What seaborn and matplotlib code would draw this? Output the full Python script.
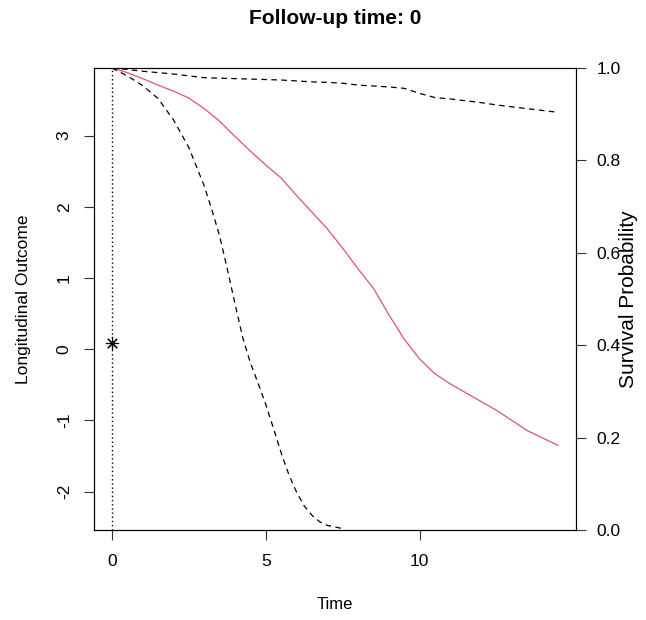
import matplotlib
matplotlib.use("Agg")
import matplotlib.pyplot as plt
import seaborn as sns

# survival curves
time = [0, 0.5, 1, 1.5, 2, 2.5, 3, 3.5, 4, 4.5, 5, 5.5, 6, 6.5, 7, 7.5,
        8, 8.5, 9, 9.5, 10, 10.5, 11, 11.5, 12, 12.5, 13, 13.5, 14, 14.5]
surv_mean = [1.0, 0.990, 0.977, 0.963, 0.950, 0.935, 0.912, 0.885, 0.852, 0.820,
             0.790, 0.762, 0.724, 0.688, 0.652, 0.610, 0.565, 0.523, 0.466, 0.413,
             0.370, 0.338, 0.316, 0.297, 0.278, 0.259, 0.237, 0.215, 0.199, 0.183]
surv_upper = [1.0, 0.997, 0.993, 0.990, 0.987, 0.983, 0.979, 0.978, 0.977, 0.976,
              0.975, 0.974, 0.972, 0.970, 0.969, 0.967, 0.963, 0.961, 0.959, 0.956,
              0.945, 0.936, 0.933, 0.929, 0.925, 0.920, 0.916, 0.912, 0.908, 0.904]
# lower band drops fast and hits zero around t = 7.5
lower_time = [0, 0.5, 1, 1.5, 2, 2.5, 3, 3.25, 3.5, 3.75, 4, 4.25, 4.5, 4.75,
              5, 5.25, 5.5, 5.75, 6, 6.25, 6.5, 6.75, 7, 7.5]
surv_lower = [1.0, 0.983, 0.962, 0.934, 0.888, 0.828, 0.745, 0.693, 0.637, 0.565,
              0.490, 0.417, 0.362, 0.318, 0.272, 0.220, 0.167, 0.120, 0.082, 0.052,
              0.032, 0.018, 0.010, 0.003]

# observed longitudinal measurement
obs_time = [0]
obs_value = [0.08]
followup_time = 0

y_ticks = [-2, -1, 0, 1, 2, 3]
x_ticks = [0, 5, 10]
surv_ticks = [0.0, 0.2, 0.4, 0.6, 0.8, 1.0]

sns.set_style("ticks")
plt.rcParams["font.family"] = ["Liberation Sans", "DejaVu Sans"]
plt.rcParams["axes.unicode_minus"] = False
plt.rcParams["text.color"] = "black"
plt.rcParams["axes.labelcolor"] = "black"
plt.rcParams["xtick.color"] = "black"
plt.rcParams["ytick.color"] = "black"

red = "#DF536B"
dash = (0, (4.5, 3.5))

fig = plt.figure(figsize=(6.46, 6.2), dpi=100)
ax = fig.add_axes([94 / 646, 1 - 530 / 620, 482 / 646, 462 / 620])
ax2 = ax.twinx()

# longitudinal part
ax.axvline(followup_time, color="black", lw=1.0, linestyle=(0, (1, 2)))
ax.plot(obs_time, obs_value, linestyle="none", marker=(8, 2, 0),
        markersize=9.5, markeredgewidth=0.8, color="black")
ax.set_xlim(-0.58, 15.08)
ax.set_ylim(-2.54, 3.95)
ax.set_xticks(x_ticks)
ax.set_yticks(y_ticks)
ax.set_yticklabels([str(v) for v in y_ticks], rotation=90, va="center")

# survival part
sns.lineplot(x=time, y=surv_mean, ax=ax2, color=red, lw=0.9)
sns.lineplot(x=time, y=surv_upper, ax=ax2, color="black", lw=0.9, linestyle=dash)
sns.lineplot(x=lower_time, y=surv_lower, ax=ax2, color="black", lw=0.9,
             linestyle=dash)
ax2.set_ylim(0, 1)
ax2.set_yticks(surv_ticks)
ax2.set_yticklabels([f"{v:.1f}" for v in surv_ticks])

for a in (ax, ax2):
    for s in a.spines.values():
        s.set_visible(True)
        s.set_color("black")
        s.set_linewidth(0.8)
ax.tick_params(axis="both", length=7, width=0.8, color="#333333",
               labelsize=12.5, labelcolor="black")
ax.tick_params(axis="x", pad=10)
ax.tick_params(axis="y", pad=9)
ax2.tick_params(axis="y", length=7, width=0.8, color="#333333",
                labelsize=12.5, pad=8, labelcolor="black")

ax.set_xlabel("Time", fontsize=12, va="center")
ax.xaxis.set_label_coords(0.5, -0.162)
ax.set_ylabel("Longitudinal Outcome", fontsize=12.5, va="center")
ax.yaxis.set_label_coords(-0.147, 0.5)
ax2.set_ylabel("Survival Probability", fontsize=15, va="center", rotation=90)
ax2.yaxis.set_label_coords(1.108, 0.5)

fig.text(335 / 646, 1 - 18 / 620, "Follow-up time: 0", fontsize=15,
         fontweight="bold", ha="center", va="center")

fig.savefig("out.png", dpi=100)
